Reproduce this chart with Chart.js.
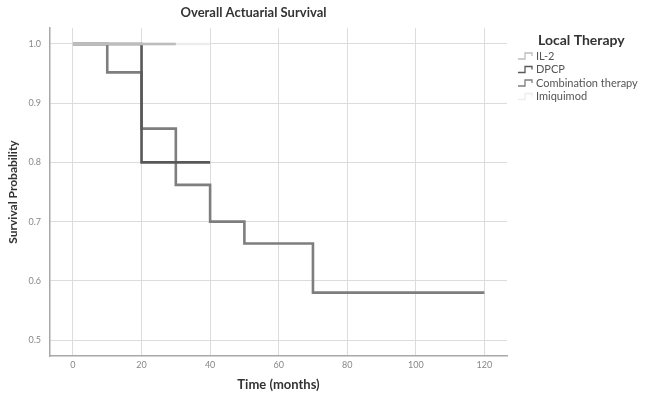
<!DOCTYPE html>
<html>
<head>
<meta charset="utf-8">
<script src="https://cdn.jsdelivr.net/npm/chart.js@4.4.1/dist/chart.umd.min.js"></script>
<style>
  html, body { margin: 0; padding: 0; background: #fff; }
  #wrap { width: 648px; height: 396px; }
</style>
</head>
<body>
<div id="wrap"><canvas id="survChart" width="648" height="396"></canvas></div>
<script>
// time points (months) and survival values
const il2Time = [0, 30];
const il2Surv = [1.0, 1.0];
const dpcpTime = [0, 20, 40];
const dpcpSurv = [1.0, 0.8, 0.8];
const comboTime = [0, 10, 20, 30, 40, 50, 70, 120];
const comboSurv = [1.0, 0.952, 0.857, 0.762, 0.70, 0.663, 0.58, 0.58];
const imiqTime = [0, 40];
const imiqSurv = [1.0, 1.0];

const xTicks = [0, 20, 40, 60, 80, 100, 120];
const yTicks = [0.5, 0.6, 0.7, 0.8, 0.9, 1.0];

const seriesNames = ["IL-2", "DPCP", "Combination therapy", "Imiquimod"];
const seriesColors = ["#bdbdbd", "#585858", "#7e7e7e", "#ededed"];

const fontFam = "Lato, 'Open Sans', sans-serif";

function pts(t, s) {
  let out = [];
  for (let i = 0; i < t.length; i++) out.push({ x: t[i], y: s[i] });
  return out;
}

const allData = [pts(il2Time, il2Surv), pts(dpcpTime, dpcpSurv), pts(comboTime, comboSurv), pts(imiqTime, imiqSurv)];

let datasets = [];
for (let i = 0; i < seriesNames.length; i++) {
  datasets.push({
    label: seriesNames[i],
    data: allData[i],
    borderColor: seriesColors[i],
    backgroundColor: seriesColors[i],
    borderWidth: 2.6,
    stepped: "before",
    pointRadius: 0,
    fill: false,
  });
}

// legend drawn by hand: title + small step glyphs
const stepLegend = {
  id: "stepLegend",
  afterDraw(chart) {
    const ctx = chart.ctx;
    ctx.save();
    ctx.fillStyle = "#333";
    ctx.font = "bold 14px " + fontFam;
    ctx.textBaseline = "middle";
    ctx.textAlign = "left";
    ctx.fillText("Local Therapy", 538, 40);
    ctx.font = "11px " + fontFam;
    chart.data.datasets.forEach((ds, i) => {
      let y = 56 + i * 13.5;
      ctx.strokeStyle = ds.borderColor;
      ctx.lineWidth = 1.3;
      ctx.beginPath();
      ctx.moveTo(518, y + 3);
      ctx.lineTo(525, y + 3);
      ctx.lineTo(525, y - 3);
      ctx.lineTo(532, y - 3);
      ctx.lineTo(532, y);
      ctx.stroke();
      ctx.fillStyle = "#555";
      ctx.fillText(ds.label, 536, y);
    });
    ctx.restore();
  },
};

new Chart(document.getElementById("survChart"), {
  type: "line",
  data: { datasets: datasets },
  options: {
    responsive: false,
    animation: false,
    layout: { padding: { left: 0, right: 141, top: 0, bottom: 0 } },
    plugins: {
      legend: { display: false },
      tooltip: { enabled: false },
      title: {
        display: true,
        text: "Overall Actuarial Survival",
        color: "#333",
        font: { family: fontFam, size: 13, weight: "bold", lineHeight: 1.2 },
        padding: { top: 5, bottom: 7.4 },
      },
    },
    scales: {
      x: {
        type: "linear",
        min: -6.7,
        max: 126.6,
        afterBuildTicks: (s) => { s.ticks = xTicks.map((v) => ({ value: v })); },
        afterFit: (s) => { s.height = 40; },
        ticks: { color: "#888", font: { family: fontFam, size: 9 }, padding: 4 },
        grid: { color: "#dcdcdc", lineWidth: 1, drawTicks: false },
        border: { color: "#a8a8a8", width: 1.5 },
        title: {
          display: true,
          text: "Time (months)",
          color: "#333",
          font: { family: fontFam, size: 13, weight: "bold", lineHeight: 1.2 },
          padding: { top: 4, bottom: 3 },
        },
      },
      y: {
        type: "linear",
        min: 0.473,
        max: 1.027,
        afterBuildTicks: (s) => { s.ticks = yTicks.map((v) => ({ value: v })); },
        afterFit: (s) => { s.width = 50; },
        ticks: {
          color: "#888",
          font: { family: fontFam, size: 9 },
          padding: 9,
          callback: (v) => v.toFixed(1),
        },
        grid: { color: "#dcdcdc", lineWidth: 1, drawTicks: false },
        border: { color: "#a8a8a8", width: 1.5 },
        title: {
          display: true,
          text: "Survival Probability",
          color: "#333",
          font: { family: fontFam, size: 12, weight: "bold", lineHeight: 1.2 },
          padding: { top: 6, bottom: 4 },
        },
      },
    },
  },
  plugins: [stepLegend],
});
</script>
</body>
</html>
